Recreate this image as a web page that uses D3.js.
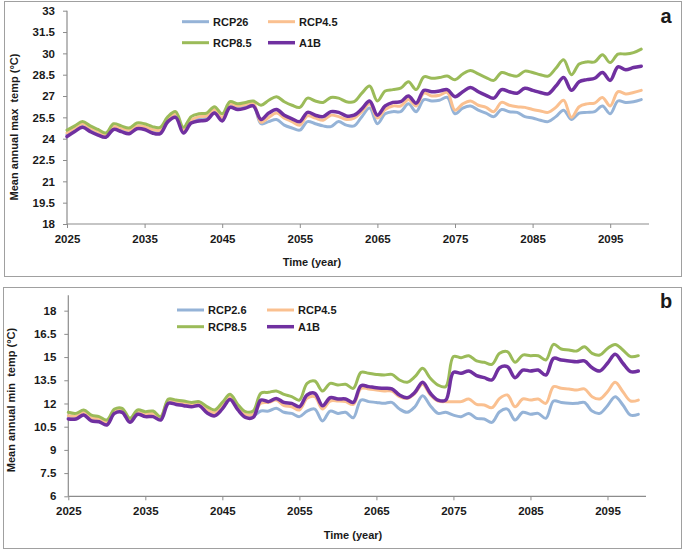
<!DOCTYPE html>
<html><head><meta charset="utf-8">
<script src="https://cdn.jsdelivr.net/npm/d3@7"></script>
<style>
body{margin:0;background:#fff}
text{font-family:"Liberation Sans",Arial,sans-serif;fill:#1a1a1a}
</style>
</head><body>
<svg id="c" width="685" height="552"></svg>
<script>
// ---------------- DATA ----------------
const years = [2025,2026,2027,2028,2029,2030,2031,2032,2033,2034,2035,2036,2037,2038,2039,2040,2041,2042,2043,2044,2045,2046,2047,2048,2049,2050,2051,2052,2053,2054,2055,2056,2057,2058,2059,2060,2061,2062,2063,2064,2065,2066,2067,2068,2069,2070,2071,2072,2073,2074,2075,2076,2077,2078,2079,2080,2081,2082,2083,2084,2085,2086,2087,2088,2089,2090,2091,2092,2093,2094,2095,2096,2097,2098,2099];
const xTicks = [2025,2035,2045,2055,2065,2075,2085,2095];
const yTicksA = [18,19.5,21,22.5,24,25.5,27,28.5,30,31.5,33];
const yTicksB = [6,7.5,9,10.5,12,13.5,15,16.5,18];
const seriesKeys = ["rcp26","rcp45","rcp85","a1b"];
const legendLabelsA = ["RCP26","RCP4.5","RCP8.5","A1B"];
const legendLabelsB = ["RCP2.6","RCP4.5","RCP8.5","A1B"];

// Panel a: mean annual max temp
const maxRCP26 = [24.28,24.63,24.93,24.63,24.38,24.13,24.73,24.63,24.48,24.78,24.73,24.53,24.48,25.23,25.63,24.48,25.18,25.43,25.48,25.93,25.38,26.33,26.18,26.28,26.38,
  25.05,25.2,25.35,24.95,24.75,24.6,25.2,25.05,24.9,24.85,25.2,24.95,24.9,25.55,26.15,25.05,25.75,25.9,25.9,26.45,25.9,26.75,26.65,26.7,26.9,
  25.75,26.15,26.3,26.0,25.8,25.55,26.05,25.9,25.85,25.55,25.45,25.3,25.2,25.55,26.0,25.35,25.8,25.85,25.9,26.3,25.75,26.65,26.55,26.6,26.75];
const maxRCP45 = [24.4,24.75,25.05,24.75,24.5,24.25,24.85,24.75,24.6,24.9,24.85,24.65,24.6,25.35,25.75,24.6,25.3,25.55,25.6,26.05,25.5,26.45,26.3,26.4,26.5,
  25.15,25.5,25.8,25.45,25.2,24.95,25.6,25.45,25.3,25.65,25.55,25.35,25.45,25.9,26.45,25.45,26.05,26.3,26.3,26.75,26.3,27.2,27.0,27.05,27.25,
  26.0,26.45,26.65,26.35,26.2,25.9,26.55,26.35,26.25,26.2,26.05,25.95,25.85,26.2,26.7,25.5,26.25,26.45,26.5,26.9,26.3,27.3,27.15,27.25,27.4];
const maxRCP85 = [24.6,24.9,25.2,24.9,24.65,24.4,25.05,24.9,24.75,25.1,25.05,24.85,24.8,25.55,25.9,24.8,25.55,25.75,25.8,26.25,25.75,26.6,26.45,26.55,26.65,
  26.35,26.7,26.95,26.6,26.35,26.2,26.85,26.65,26.55,26.9,26.85,26.6,26.6,27.2,27.7,26.65,27.35,27.45,27.55,28.0,27.45,28.35,28.25,28.3,28.4,
  28.15,28.55,28.8,28.55,28.3,28.1,28.65,28.5,28.4,28.75,28.65,28.5,28.4,28.95,29.55,28.5,29.25,29.4,29.4,29.9,29.35,29.95,29.95,30.05,30.3];
const maxA1B = [24.15,24.5,24.8,24.5,24.25,24.1,24.65,24.5,24.35,24.7,24.65,24.4,24.35,25.2,25.5,24.4,25.1,25.25,25.3,25.8,25.25,26.2,26.05,26.15,26.3,
  25.35,25.8,26.05,25.65,25.4,25.2,25.85,25.65,25.55,25.9,25.85,25.6,25.65,26.1,26.65,25.65,26.3,26.55,26.6,27.0,26.5,27.4,27.3,27.35,27.45,
  26.95,27.3,27.6,27.3,27.05,26.85,27.45,27.3,27.2,27.55,27.4,27.25,27.15,27.7,28.3,27.4,28.0,28.15,28.25,28.65,28.1,29.05,28.85,29.0,29.1];

// Panel b: mean annual min temp
const minRCP26 = [11.1,11.1,11.35,10.97,10.92,10.71,11.46,11.53,10.88,11.4,11.25,11.25,11.03,12.11,12.04,11.96,11.89,11.96,11.5,11.3,11.75,12.35,11.7,11.2,11.2,
  11.51,11.51,11.69,11.43,11.36,11.15,11.51,11.64,10.87,11.51,11.36,11.43,11.08,12.22,12.12,12.07,12.01,12.07,11.64,11.43,11.79,12.5,11.86,11.36,11.43,
  11.25,11.15,11.36,11.04,11.0,10.78,11.47,11.64,10.93,11.43,11.3,11.36,11.04,12.16,12.07,12.01,12.01,12.07,11.51,11.36,11.86,12.44,11.9,11.25,11.3];
const minRCP45 = [11.2,11.2,11.45,11.07,11.02,10.81,11.56,11.63,10.98,11.5,11.35,11.35,11.13,12.21,12.14,12.06,11.99,12.06,11.6,11.4,11.85,12.45,11.8,11.3,11.3,
  12.01,12.07,12.22,11.86,11.79,11.58,12.33,12.44,11.64,12.16,12.16,12.12,11.94,12.98,12.94,12.87,12.81,12.81,12.44,12.33,12.66,13.24,12.55,12.16,12.12,
  12.12,12.12,12.29,11.94,11.9,11.73,12.33,12.55,11.79,12.29,12.22,12.29,12.01,13.09,12.98,12.94,12.87,12.94,12.44,12.29,12.76,13.37,12.76,12.16,12.22];
const minRCP85 = [11.43,11.36,11.58,11.25,11.15,10.93,11.64,11.69,11.04,11.58,11.47,11.51,11.15,12.29,12.22,12.16,12.07,12.12,11.8,11.58,12.07,12.59,11.94,11.47,11.51,
  12.66,12.72,12.81,12.59,12.44,12.22,13.3,13.45,12.81,13.3,13.19,13.24,12.98,14.01,13.95,13.88,13.84,13.88,13.52,13.37,13.73,14.27,13.63,13.19,13.09,
  15.03,14.96,15.09,14.75,14.66,14.53,15.24,15.35,14.66,15.13,15.09,15.09,14.81,15.82,15.52,15.46,15.39,15.67,15.24,15.13,15.56,15.82,15.46,15.03,15.09];
const minA1B = [11.0,11.0,11.25,10.87,10.82,10.61,11.36,11.43,10.78,11.3,11.15,11.15,10.93,12.01,11.94,11.86,11.79,11.86,11.4,11.2,11.65,12.25,11.6,11.1,11.1,
  12.22,12.12,12.33,12.07,12.01,11.79,12.55,12.66,11.86,12.37,12.29,12.29,12.07,13.15,13.09,13.02,12.98,12.94,12.55,12.37,12.72,13.37,12.66,12.22,12.22,
  14.01,13.95,14.1,13.8,13.67,13.52,14.31,14.38,13.67,14.16,14.1,14.16,13.84,14.92,14.81,14.75,14.7,14.75,14.31,14.1,14.6,15.18,14.6,14.06,14.1];

// ---------------- STYLE ----------------
const colors = {rcp26:"#95B3D7", rcp45:"#FAC090", rcp85:"#9BBB59", a1b:"#7030A0"};
const widths = {rcp26:3, rcp45:3, rcp85:3, a1b:3.5};
const axisColor = "#8c8c8c";

const svg = d3.select("#c");

function drawPanel(cfg){
  const g = svg.append("g");
  // frame
  g.append("rect").attr("x",cfg.frame[0]+0.5).attr("y",cfg.frame[1]+0.5)
    .attr("width",cfg.frame[2]-cfg.frame[0]).attr("height",cfg.frame[3]-cfg.frame[1])
    .attr("fill","#fff").attr("stroke","#a0a0a0").attr("stroke-width",1);

  const x = d3.scaleLinear().domain([2025,2100]).range(cfg.xr);
  const y = d3.scaleLinear().domain(cfg.yd).range(cfg.yr);

  const yAxis = d3.axisLeft(y).tickValues(cfg.yTicks).tickSize(4).tickPadding(8)
    .tickFormat(d=>String(d));
  const ya = g.append("g").attr("transform",`translate(${cfg.xr[0]},0)`).call(yAxis);
  const xAxis = d3.axisBottom(x).tickValues(xTicks).tickSize(4).tickPadding(7)
    .tickFormat(d=>String(d));
  const xa = g.append("g").attr("transform",`translate(0,${cfg.yr[0]})`).call(xAxis);
  [ya,xa].forEach(a=>{
    a.select(".domain").attr("stroke",axisColor).attr("stroke-width",1.2);
    a.selectAll(".tick line").attr("stroke",axisColor);
    a.selectAll(".tick text").attr("font-size","11.5px").attr("font-weight","bold")
      .attr("fill","#1a1a1a").style("font-family",'"Liberation Sans",Arial,sans-serif');
  });
  // remove outer ticks on y axis domain path (axis style)
  ya.select(".domain").attr("d",`M-0,${cfg.yr[0]}V${cfg.yr[1]}`);
  xa.select(".domain").attr("d",`M${cfg.xr[0]},0H${cfg.xr[1]}`);

  // lines
  const line = d3.line().x((d,i)=>x(years[i])).y(d=>y(d)).curve(d3.curveCatmullRom.alpha(0.5));
  seriesKeys.forEach((k,idx)=>{
    g.append("path").datum(cfg.series[idx]).attr("d",line)
      .attr("fill","none").attr("stroke",colors[k]).attr("stroke-width",widths[k])
      .attr("stroke-linejoin","round").attr("stroke-linecap","round");
  });

  // legend
  const L = cfg.legend;
  seriesKeys.forEach((k,idx)=>{
    const col = idx%2, row = Math.floor(idx/2);
    const lx = L.colX[col], ly = L.rowY[row];
    g.append("line").attr("x1",lx).attr("x2",lx+L.lineLen).attr("y1",ly).attr("y2",ly)
      .attr("stroke",colors[k]).attr("stroke-width",widths[k]);
    g.append("text").attr("x",lx+L.lineLen+L.gap).attr("y",ly+4)
      .attr("font-size","11px").attr("font-weight","bold").text(cfg.labels[idx]);
  });

  // titles
  g.append("text").attr("transform",`translate(${cfg.yTitle[0]},${cfg.yTitle[1]}) rotate(-90)`)
    .attr("text-anchor","middle").attr("font-size","11px").attr("font-weight","bold")
    .style("white-space","pre").text(cfg.yTitleText);
  g.append("text").attr("x",cfg.xTitle[0]).attr("y",cfg.xTitle[1])
    .attr("text-anchor","middle").attr("font-size","11px").attr("font-weight","bold")
    .text("Time (year)");
  g.append("text").attr("x",cfg.tag[0]).attr("y",cfg.tag[1]).attr("text-anchor","middle")
    .attr("font-size","20px").attr("font-weight","bold").attr("fill","#000").text(cfg.tagText);
}

drawPanel({
  frame:[4,1,681,276],
  xr:[67,649], yd:[18,33], yr:[224,10.7], yTicks:yTicksA,
  series:[maxRCP26,maxRCP45,maxRCP85,maxA1B], labels:legendLabelsA,
  legend:{colX:[182,268], rowY:[21.7,42.7], lineLen:27, gap:4},
  yTitle:[17.5,127], yTitleText:"Mean annual max  temp (\u00B0C)",
  xTitle:[312,266], tag:[666,23], tagText:"a"
});
drawPanel({
  frame:[3,287,681,548],
  xr:[68.3,646], yd:[6,19], yr:[496.3,295.2], yTicks:yTicksB,
  series:[minRCP26,minRCP45,minRCP85,minA1B], labels:legendLabelsB,
  legend:{colX:[177,267], rowY:[310,326.7], lineLen:27, gap:4},
  yTitle:[15,400], yTitleText:"Mean annual min  temp (\u00B0C)",
  xTitle:[353,539], tag:[666,307.5], tagText:"b"
});
</script>
</body></html>
